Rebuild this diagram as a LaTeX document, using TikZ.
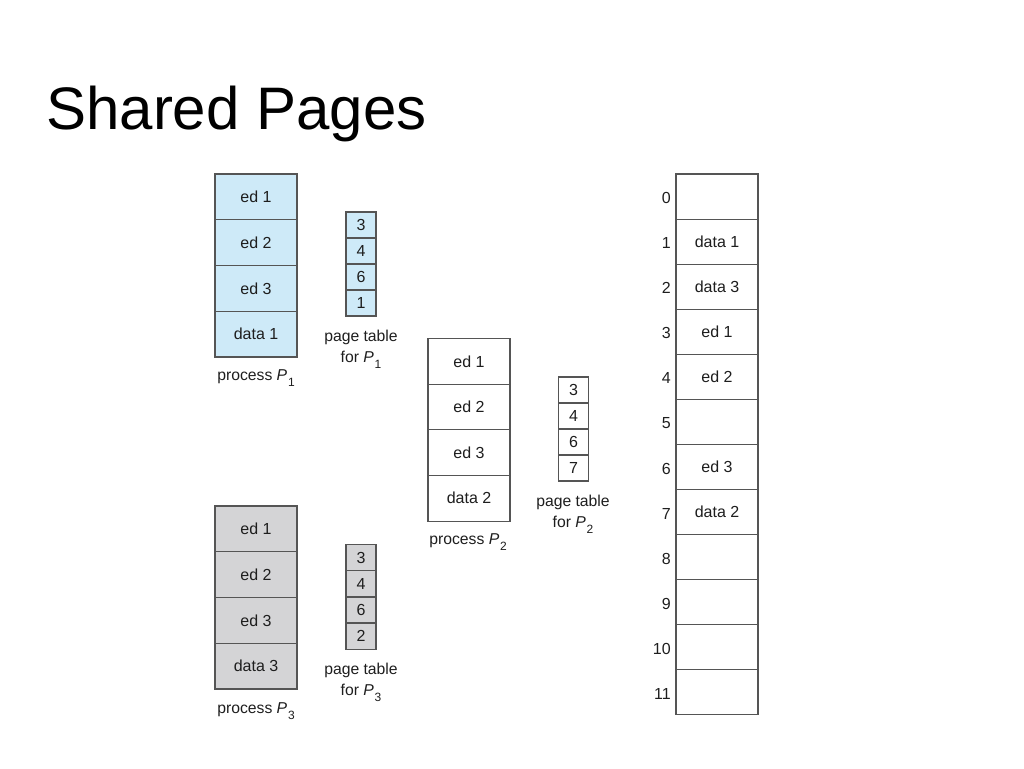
\documentclass[tikz,border=0pt]{standalone}
\usepackage{fontspec}
\setmainfont{Liberation Sans}
\definecolor{pblue}{RGB}{206,234,248}
\definecolor{pgray}{RGB}{212,212,214}
\definecolor{edge}{RGB}{85,85,85}
\definecolor{txt}{RGB}{30,30,30}
\tikzset{
  cell/.style={draw=edge, line width=0.8pt, inner sep=0, minimum width=61.5pt, text=txt, font=\fontsize{12}{14}\selectfont},
  pte/.style={draw=edge, line width=0.8pt, inner sep=0, minimum width=22.5pt, minimum height=19.5pt, text=txt, font=\fontsize{12}{14}\selectfont},
  lbl/.style={inner sep=0, text=txt, font=\fontsize{11.8}{15.75}\selectfont, align=center},
  idx/.style={inner sep=0, anchor=east, text=txt, font=\fontsize{12}{14}\selectfont},
}
\newcommand{\Pn}[1]{\textit{P}\kern0.6pt\raisebox{-0.7ex}{\fontsize{9}{10}\selectfont #1}}
\begin{document}
\begin{tikzpicture}[x=0.75pt,y=-0.75pt]
\useasboundingbox (0,0) rectangle (1024,768);
\node[anchor=base west, inner sep=0, font=\fontsize{45}{50}\selectfont] (title) at (46,129) {Shared Pages};
% process P1
\foreach \t [count=\i] in {ed 1,ed 2,ed 3,data 1}{
  \node[cell, fill=pblue, minimum height=34.3pt] (pa\i) at (256,{174+45.75*(\i-0.5)}) {\raisebox{-1.2pt}{\t}};
}
\node[lbl] (pal) at (256,378) {process \Pn{1}};
\foreach \t [count=\i] in {3,4,6,1}{
  \node[pte, fill=pblue] (ta\i) at (361,{212+26*(\i-0.5)}) {\t};
}
\node[lbl] (tal) at (361,349) {page table\\for \Pn{1}};
% process P2
\foreach \t [count=\i] in {ed 1,ed 2,ed 3,data 2}{
  \node[cell, fill=white, minimum height=34.3pt] (pb\i) at (469,{339+45.5*(\i-0.5)}) {\raisebox{-1.2pt}{\t}};
}
\node[lbl] (pbl) at (468,542) {process \Pn{2}};
\foreach \t [count=\i] in {3,4,6,7}{
  \node[pte, fill=white] (tb\i) at (573.5,{377+26*(\i-0.5)}) {\t};
}
\node[lbl] (tbl) at (573,514) {page table\\for \Pn{2}};
% process P3
\foreach \t [count=\i] in {ed 1,ed 2,ed 3,data 3}{
  \node[cell, fill=pgray, minimum height=34.3pt] (pc\i) at (256,{506+45.75*(\i-0.5)}) {\raisebox{-1.2pt}{\t}};
}
\node[lbl] (pcl) at (256,711) {process \Pn{3}};
\foreach \t [count=\i] in {3,4,6,2}{
  \node[pte, fill=pgray] (tc\i) at (361,{544.5+26.2*(\i-0.5)}) {\t};
}
\node[lbl] (tcl) at (361,682) {page table\\for \Pn{3}};
% physical memory
\foreach \t [count=\i from 0] in {,data 1,data 3,ed 1,ed 2,,ed 3,data 2,,,,}{
  \node[cell, fill=white, minimum height=33.8pt] (m\i) at (717,{174+45.08*(\i+0.5)}) {\raisebox{-1.2pt}{\t}};
  \node[idx] (n\i) at (671,{174+45.08*(\i+0.5)+1.5}) {\i};
}
\end{tikzpicture}
\end{document}
